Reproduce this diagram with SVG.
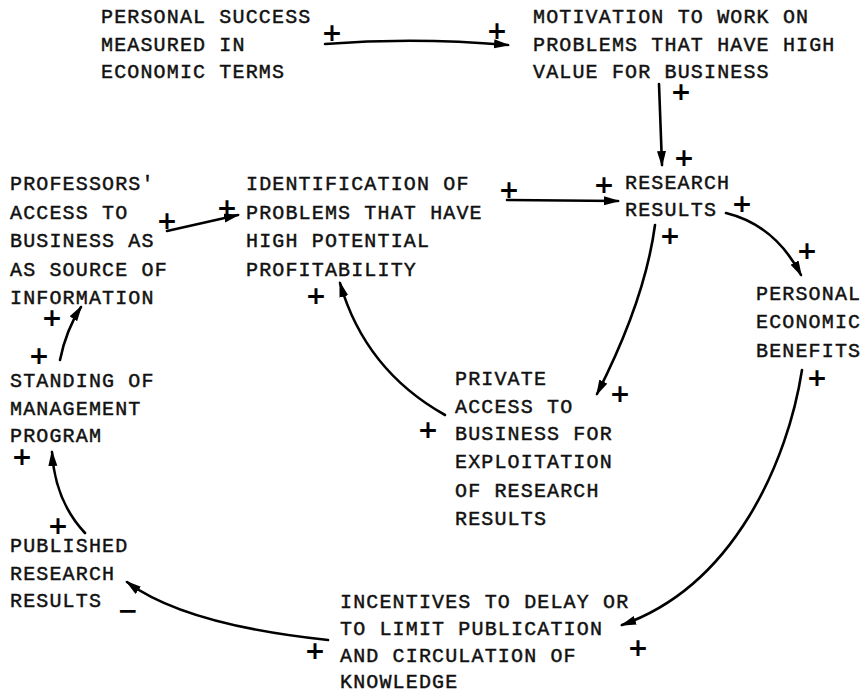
<svg xmlns="http://www.w3.org/2000/svg" width="867" height="693" viewBox="0 0 867 693">
<style>
.t{font-family:"Liberation Mono","DejaVu Sans Mono",monospace;font-size:20px;letter-spacing:1.15px;fill:#111;stroke:#111;stroke-width:0.45px}
.s{font-family:"DejaVu Sans","Liberation Sans",sans-serif;font-weight:bold;font-size:25px;fill:#000;text-anchor:middle}
.c{fill:none;stroke:#000;stroke-width:2.6;stroke-linecap:round;marker-end:url(#ah)}
</style>
<defs>
<marker id="ah" markerUnits="userSpaceOnUse" markerWidth="18" markerHeight="10" refX="14" refY="4.5" orient="auto">
<path d="M0,0 L16,4.5 L0,9 z" fill="#000"/>
</marker>
</defs>
<rect width="867" height="693" fill="#fff"/>

<g id="n-personal-success">
<text class="t" x="101" y="23">PERSONAL SUCCESS</text>
<text class="t" x="101" y="50.5">MEASURED IN</text>
<text class="t" x="101" y="78">ECONOMIC TERMS</text>
</g>
<g id="n-motivation">
<text class="t" x="533" y="23">MOTIVATION TO WORK ON</text>
<text class="t" x="533" y="50.5">PROBLEMS THAT HAVE HIGH</text>
<text class="t" x="533" y="78">VALUE FOR BUSINESS</text>
</g>
<g id="n-professors">
<text class="t" x="10" y="190">PROFESSORS'</text>
<text class="t" x="10" y="218.5">ACCESS TO</text>
<text class="t" x="10" y="247">BUSINESS AS</text>
<text class="t" x="10" y="275.5">AS SOURCE OF</text>
<text class="t" x="10" y="304">INFORMATION</text>
</g>
<g id="n-identification">
<text class="t" x="246" y="190">IDENTIFICATION OF</text>
<text class="t" x="246" y="218.5">PROBLEMS THAT HAVE</text>
<text class="t" x="246" y="247">HIGH POTENTIAL</text>
<text class="t" x="246" y="275.5">PROFITABILITY</text>
</g>
<g id="n-research-results">
<text class="t" x="625" y="189">RESEARCH</text>
<text class="t" x="625" y="216">RESULTS</text>
</g>
<g id="n-personal-benefits">
<text class="t" x="756" y="300">PERSONAL</text>
<text class="t" x="756" y="328">ECONOMIC</text>
<text class="t" x="756" y="357">BENEFITS</text>
</g>
<g id="n-standing">
<text class="t" x="10" y="387">STANDING OF</text>
<text class="t" x="10" y="415">MANAGEMENT</text>
<text class="t" x="10" y="442">PROGRAM</text>
</g>
<g id="n-private-access">
<text class="t" x="455" y="385">PRIVATE</text>
<text class="t" x="455" y="413">ACCESS TO</text>
<text class="t" x="455" y="440">BUSINESS FOR</text>
<text class="t" x="455" y="468">EXPLOITATION</text>
<text class="t" x="455" y="497">OF RESEARCH</text>
<text class="t" x="455" y="525">RESULTS</text>
</g>
<g id="n-published">
<text class="t" x="10" y="552">PUBLISHED</text>
<text class="t" x="10" y="580">RESEARCH</text>
<text class="t" x="10" y="607">RESULTS</text>
</g>
<g id="n-incentives">
<text class="t" x="340" y="608">INCENTIVES TO DELAY OR</text>
<text class="t" x="340" y="635">TO LIMIT PUBLICATION</text>
<text class="t" x="340" y="662">AND CIRCULATION OF</text>
<text class="t" x="340" y="688">KNOWLEDGE</text>
</g>

<g id="connectors">
<path class="c" d="M325,44 Q415,37 508,45"/>
<path class="c" d="M659,84 L662,165"/>
<path class="c" d="M507,200 L618,201"/>
<path class="c" d="M167,231 L238,215"/>
<path class="c" d="M726,213 Q775,225 801,275"/>
<path class="c" d="M655,225 Q645,300 597,394"/>
<path class="c" d="M445,415 Q365,370 340,283"/>
<path class="c" d="M60,360 Q66,330 81,307"/>
<path class="c" d="M85,533 Q55,501 52,452"/>
<path class="c" d="M328,640 Q185,625 127,582"/>
<path class="c" d="M802,370 C788,460 735,585 622,625"/>
</g>

<g id="polarities">
<text class="s" x="332" y="41">+</text>
<text class="s" x="497" y="39">+</text>
<text class="s" x="681" y="100">+</text>
<text class="s" x="684" y="166">+</text>
<text class="s" x="509" y="198">+</text>
<text class="s" x="604" y="193">+</text>
<text class="s" x="742" y="212">+</text>
<text class="s" x="807" y="259">+</text>
<text class="s" x="670" y="244">+</text>
<text class="s" x="620" y="402">+</text>
<text class="s" x="167" y="229">+</text>
<text class="s" x="227" y="216">+</text>
<text class="s" x="316" y="304">+</text>
<text class="s" x="428" y="438">+</text>
<text class="s" x="52" y="326">+</text>
<text class="s" x="39" y="364">+</text>
<text class="s" x="22" y="465">+</text>
<text class="s" x="58" y="534">+</text>
<text class="s" x="817" y="386">+</text>
<text class="s" x="638" y="656">+</text>
<text class="s" x="315" y="659">+</text>
<text class="s" x="128" y="619">−</text>
</g>
</svg>
